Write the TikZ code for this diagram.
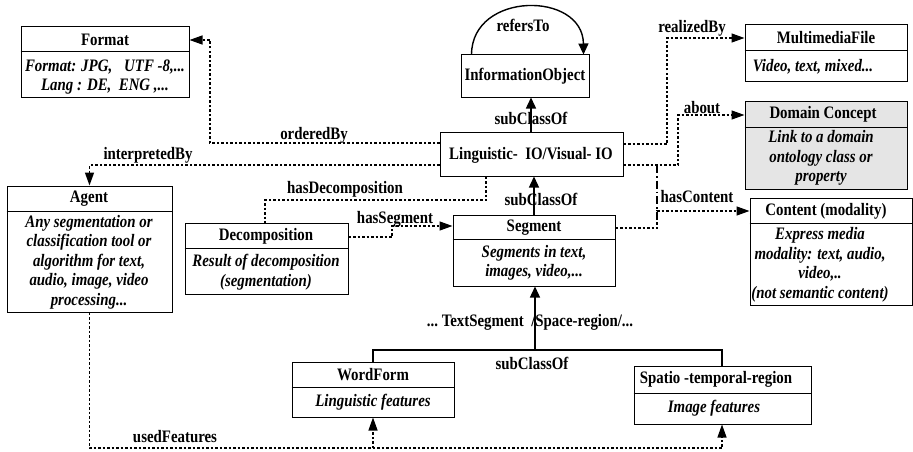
\documentclass[tikz,border=0pt]{standalone}
\usepackage{fontspec}
\setmainfont{Liberation Serif}[FakeStretch=0.85]
\usetikzlibrary{arrows.meta,fit}
\begin{document}
\begin{tikzpicture}[x=1pt,y=-1pt,
  cls/.style={draw,line width=1pt,inner sep=0pt},
  graycls/.style={cls,fill=black!10},
  divider/.style={line width=1pt},
  ttl/.style={font=\bfseries\fontsize{17.5}{19}\selectfont,inner sep=0pt},
  bdy/.style={font=\bfseries\itshape\fontsize{17.5}{19.5}\selectfont,inner sep=0pt,align=center},
  lbl/.style={font=\bfseries\fontsize{17.5}{19}\selectfont,inner sep=0pt},
  dep/.style={line width=1.3pt,dash pattern=on 2.5pt off 2pt,-{Triangle[length=13pt,width=9pt]}},
  depn/.style={line width=1.3pt,dash pattern=on 2.5pt off 2pt},
  thickdash/.style={line width=1.8pt,dash pattern=on 8pt off 3pt on 1.5pt off 3pt},
  gen/.style={line width=1.4pt,-{Triangle[length=11pt,width=10pt]}},
  solidl/.style={line width=1.4pt}]
\useasboundingbox (0,0) rectangle (913,452);

% ---- boxes ----
\node[cls,fit={(21,27) (189,97)}] (format) {};
\draw[divider] (format.west |- 0,52) -- (format.east |- 0,52);
\node[ttl] (formatT) at (105,40) {Format};
\node[bdy] (formatB) at (105,77) {Format: JPG,\hspace{12pt}UTF -8,...\\Lang : DE,\ \ ENG ,...};

\node[cls,fit={(461,55) (589,97)}] (infobj) {};
\node[ttl] (infobjT) at (525,76) {InformationObject};

\node[cls,fit={(440,132) (623,176)}] (ling) {};
\node[ttl] (lingT) at (531,155) {Linguistic-\ \ IO/Visual-\ IO};

\node[cls,fit={(7,186) (172,312)}] (agent) {};
\draw[divider] (agent.west |- 0,211) -- (agent.east |- 0,211);
\node[ttl] (agentT) at (89,199) {Agent};
\node[bdy] (agentB) at (89,262) {Any segmentation or\\classification tool or\\algorithm for text,\\audio, image, video\\processing...};

\node[cls,fit={(185,223) (348,294)}] (decomp) {};
\draw[divider] (decomp.west |- 0,248) -- (decomp.east |- 0,248);
\node[ttl] (decompT) at (266,236) {Decomposition};
\node[bdy] (decompB) at (266,272) {Result of decomposition\\(segmentation)};

\node[cls,fit={(453,215) (615,286)}] (segment) {};
\draw[divider] (segment.west |- 0,239) -- (segment.east |- 0,239);
\node[ttl] (segmentT) at (534,228) {Segment};
\node[bdy] (segmentB) at (534,263) {Segments in text,\\images, video,...};

\node[cls,fit={(292,362) (454,417)}] (wordform) {};
\draw[divider] (wordform.west |- 0,387) -- (wordform.east |- 0,387);
\node[ttl] (wordformT) at (373,375) {WordForm};
\node[bdy] (wordformB) at (373,402) {Linguistic features};

\node[cls,fit={(634,366) (811,424)}] (spatio) {};
\draw[divider] (spatio.west |- 0,393) -- (spatio.east |- 0,393);
\node[ttl] (spatioT) at (716,379) {Spatio -temporal-region};
\node[bdy] (spatioB) at (714,408) {Image features};

\node[cls,fit={(745,25) (907,82)}] (mmfile) {};
\draw[divider] (mmfile.west |- 0,51) -- (mmfile.east |- 0,51);
\node[ttl] (mmfileT) at (826,38) {MultimediaFile};
\node[bdy] (mmfileB) at (813,67) {Video, text, mixed...};

\node[graycls,fit={(745,101) (907,189)}] (domain) {};
\draw[divider] (domain.west |- 0,127) -- (domain.east |- 0,127);
\node[ttl] (domainT) at (823,114) {Domain Concept};
\node[bdy] (domainB) at (821,158) {Link to a domain\\ontology class or\\property};

\node[cls,fit={(750,198) (912,305)}] (content) {};
\draw[divider] (content.west |- 0,223) -- (content.east |- 0,223);
\node[ttl] (contentT) at (826,211) {Content (modality)};
\node[bdy] (contentB) at (820,265) {Express media\\modality: text, audio,\\video,..\\(not semantic content)};

% ---- connectors ----
% refersTo
\draw[gen] ([xshift=11pt]infobj.north west) .. controls (472,-9) and (583,-9) .. ([xshift=-6pt]infobj.north east);
\node[lbl] (refersToL) at (523,25) {refersTo};

% subClassOf Ling -> InfoObj
\draw[gen] (ling.north -| 531,0) -- (infobj.south -| 531,0);
\node[lbl] (sub1L) at (531,118) {subClassOf};

% subClassOf Segment -> Ling
\draw[gen] (segment.north -| 534,0) -- (ling.south -| 534,0);
\node[lbl] (sub2L) at (541,199) {subClassOf};

% hierarchy below Segment
\coordinate (bar) at (535,350);
\draw[solidl] (wordform.north -| 373,0) |- (722,350) -- (spatio.north -| 722,0);
\draw[gen] (bar) -- (segment.south -| bar);
\node[lbl] (segL) at (530,322) {...\ TextSegment\ \ /Space-region/...};
\node[lbl] (sub3L) at (532,363) {subClassOf};

% orderedBy
\draw[dep] (ling.west |- 0,143) -| (210,40) -- (format.east |- 0,40);
\node[lbl] (orderedByL) at (314,135) {orderedBy};

% interpretedBy
\draw[dep] (ling.west |- 0,165) -| (agent.north);
\node[lbl] (interpretedByL) at (148,155) {interpretedBy};

% hasDecomposition
\draw[depn] (ling.south -| 486,0) |- (265,200) -- (decomp.north -| 265,0);
\node[lbl] (hasDecL) at (345,189) {hasDecomposition};

% hasSegment
\draw[dep] (decomp.east |- 0,237) -- (392,237) -- (392,226) -- (segment.west |- 0,226);
\node[lbl] (hasSegL) at (395,219) {hasSegment};

% hasContent
\coordinate (hcTop) at (657,165);
\coordinate (hcBot) at (657,228);
\draw[dep] (segment.east |- hcBot) -- (hcBot) |- (content.west |- 0,211);
\draw[thickdash] (hcTop) -- (hcBot);
\node[lbl] (hasContentL) at (697,197) {hasContent};

% realizedBy
\draw[dep] (ling.east |- 0,144) -| (667,38) -- (mmfile.west |- 0,38);
\node[lbl] (realizedByL) at (692,28) {realizedBy};

% about
\draw[dep] (ling.east |- 0,165) -| (678,115) -- (domain.west |- 0,115);
\node[lbl] (aboutL) at (702,108) {about};

% usedFeatures
\coordinate (ufWord) at (373,448);
\draw[dep] (agent.south) |- (722,448) -- (spatio.south -| 722,0);
\draw[dep] (ufWord) -- (wordform.south -| ufWord);
\node[lbl] (usedFeaturesL) at (175,437) {usedFeatures};
\end{tikzpicture}
\end{document}
